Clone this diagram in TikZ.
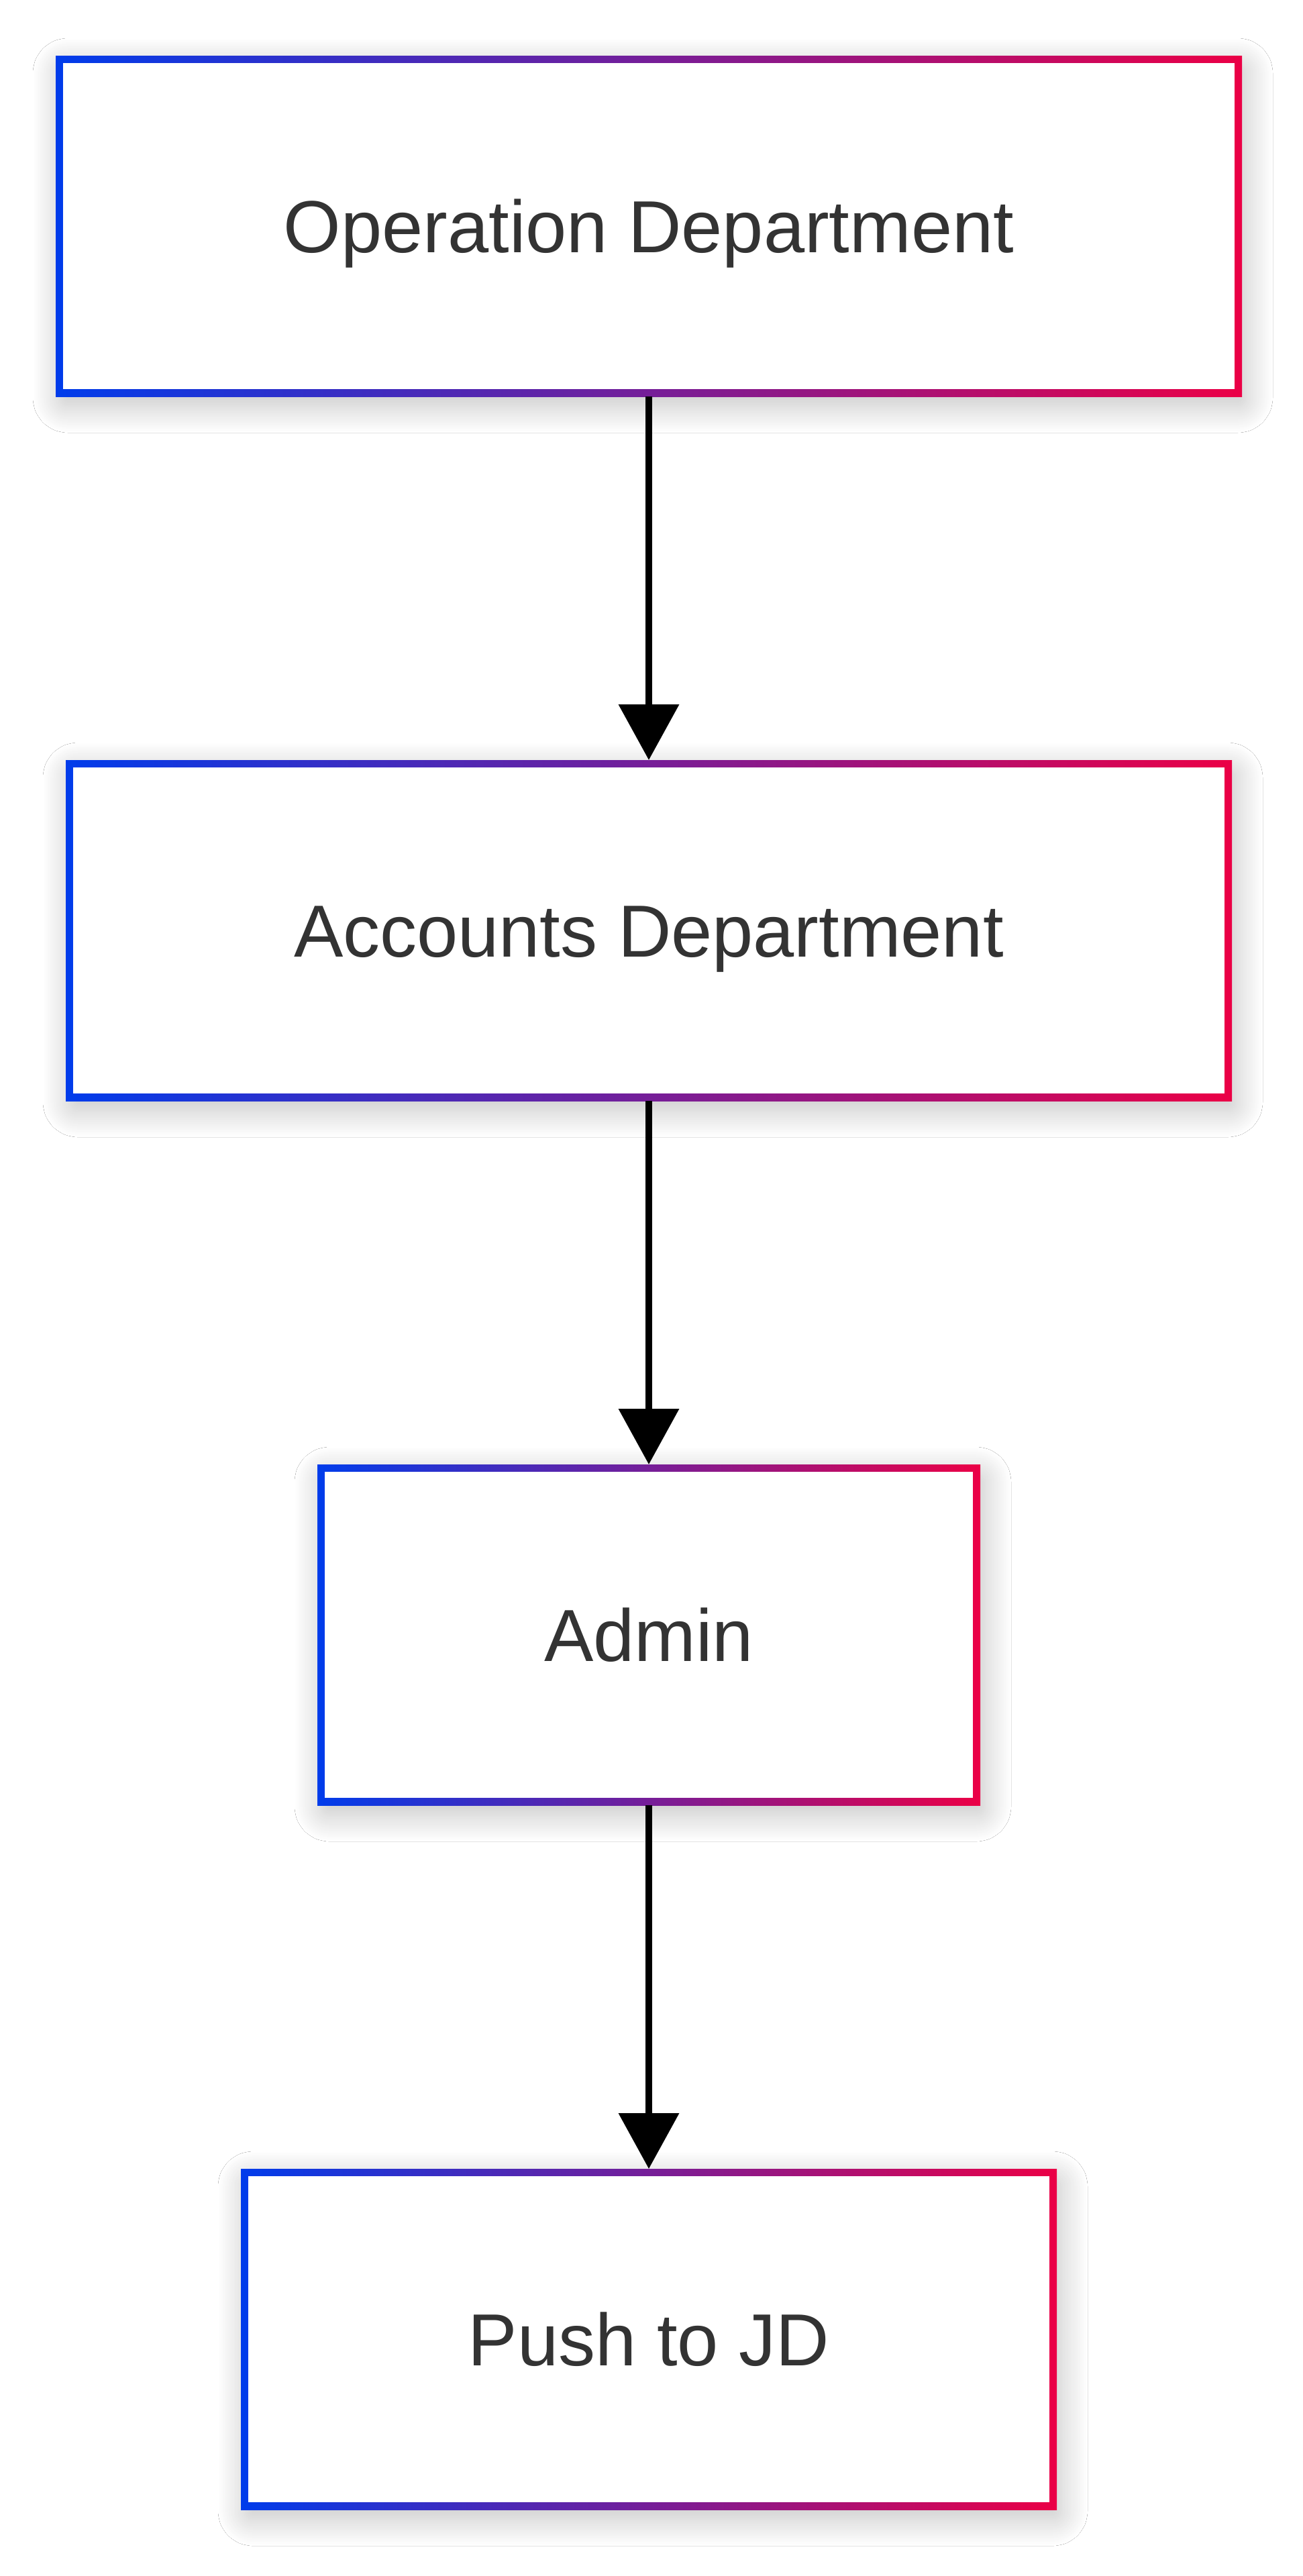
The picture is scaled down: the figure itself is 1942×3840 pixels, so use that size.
\documentclass[tikz,border=0pt]{standalone}
\usepackage{fontspec}
\setmainfont{Liberation Sans}
\usetikzlibrary{arrows.meta,shadows.blur}
\definecolor{gblue}{RGB}{0,60,235}
\definecolor{gred}{RGB}{235,0,70}
\definecolor{txtgray}{RGB}{51,51,51}
\tikzset{
  boxframe/.style={rectangle, inner sep=0pt, outer sep=0pt, left color=gblue, right color=gred,
    minimum height=254pt,
    blur shadow={shadow xshift=3pt, shadow yshift=-7pt, shadow blur radius=20pt, shadow blur steps=40, shadow blur extra rounding=6pt, shadow opacity=24}},
  boxtext/.style={rectangle, inner sep=0pt, outer sep=0pt, fill=white, text=txtgray,
    minimum height=243pt, text height=39.6pt, text depth=0pt,
    font=\fontsize{55}{66}\selectfont},
  flow/.style={line width=5.35pt, -{Triangle[length=41.5pt, width=44pt]}}
}
\begin{document}
\begin{tikzpicture}[x=0.5pt,y=-0.5pt]
\useasboundingbox (0,0) rectangle (1942,3840);
\fill[white] (0,0) rectangle (1942,3840);
\node[boxframe, minimum width=884pt] (f1) at (967,337) {};
\node[boxtext, minimum width=873pt] (n1) at (f1.center) {Operation Department};
\node[boxframe, minimum width=869pt] (f2) at (967,1387) {};
\node[boxtext, minimum width=858pt] (n2) at (f2.center) {Accounts Department};
\node[boxframe, minimum width=494pt] (f3) at (967,2437) {};
\node[boxtext, minimum width=483pt] (n3) at (f3.center) {Admin};
\node[boxframe, minimum width=608pt] (f4) at (967,3487) {};
\node[boxtext, minimum width=597pt] (n4) at (f4.center) {Push to JD};
\draw[flow] (f1.south) -- (f2.north);
\draw[flow] (f2.south) -- (f3.north);
\draw[flow] (f3.south) -- (f4.north);
\end{tikzpicture}
\end{document}
